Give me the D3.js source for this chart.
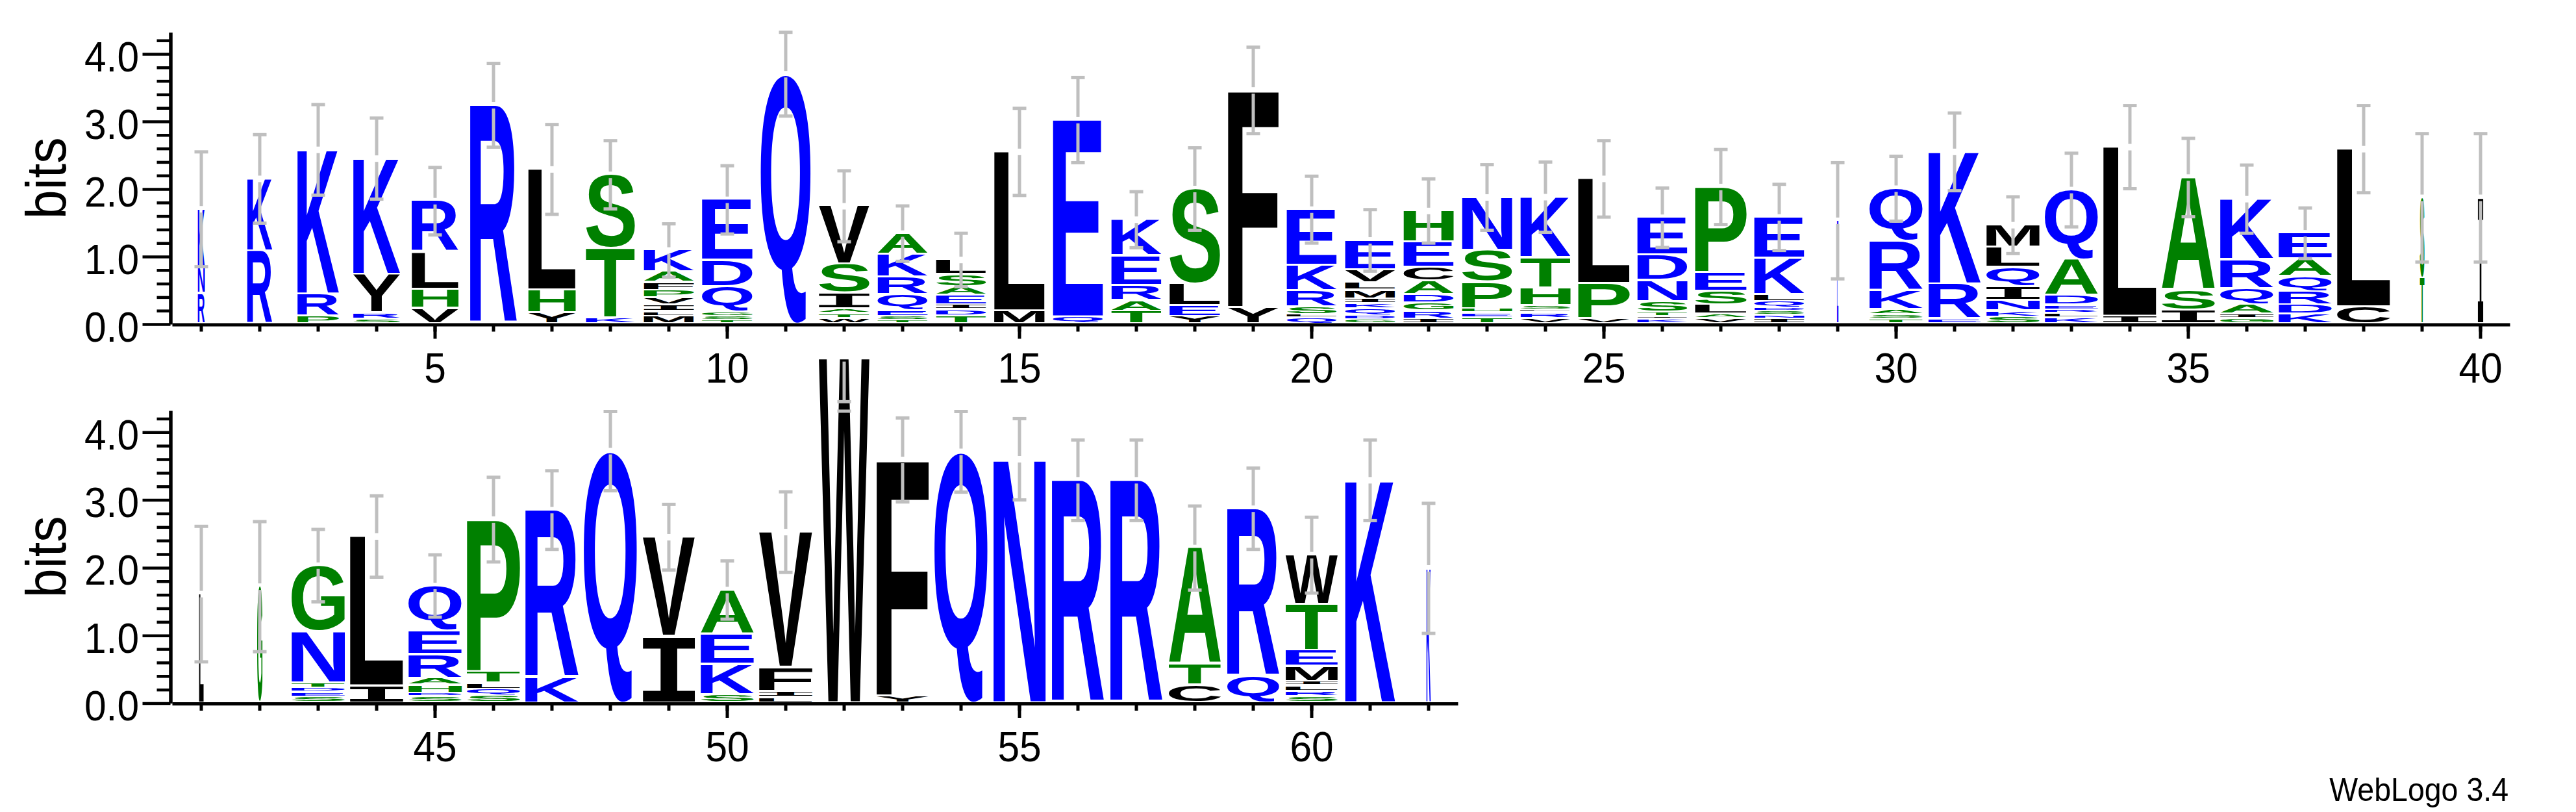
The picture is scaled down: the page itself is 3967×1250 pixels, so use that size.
<!DOCTYPE html>
<html><head><meta charset="utf-8">
<script src="https://cdn.jsdelivr.net/npm/d3@7"></script>
<style>html,body{margin:0;padding:0;background:#fff}svg{display:block}</style>
</head><body>
<svg id="chart" width="3967" height="1250"></svg>
<script>
// ---------------- DATA ----------------
const positions = d3.range(1, 63);
// letters of each stack, bottom -> top
const stackLetters = [
 "RNK","RK","PRK","SRYK","VHLR","R","YHL","KTS","MLIVPFAK","TSGQDE",
 "Q","WTAISV","TSEQRKA","TDIEASL","ML","QE","TAREK","YELS","YF","QLSRKE",
 "GDQKIMLVE","IRGDACEH","TEHPSN","VRLSHTK","VPL","KITSNDE","VALSEP","INSDQLKE","E","TSAKRQ",
 "ERK","SKNIQLM","KLREDAQ","IL","ISA","GIAQRK","KDRQAE","CL","TS","I",
 "L","G","SEDTNG","IL","SDHAREQ","SQLTP","KR","Q","IV","SKEA",
 "LIFV","W","YF","Q","N","R","R","CTA","QR","SRLIMETW",
 "K","K"
];
// letter heights in bits, bottom -> top
const stackBits = [
 [0.45,0.38,0.87],[1.08,1.07],[0.11,0.33,2.14],[0.07,0.09,0.57,1.72],[0.23,0.28,0.55,0.76],
 [3.24],[0.16,0.34,1.79],[0.09,1.03,1.09],[0.11,0.07,0.10,0.10,0.11,0.12,0.16,0.32],[0.05,0.06,0.06,0.38,0.39,0.90],
 [3.70],[0.08,0.07,0.07,0.235,0.43,0.86],[0.05,0.06,0.09,0.235,0.26,0.335,0.31],[0.12,0.09,0.07,0.14,0.13,0.18,0.22],[0.19,2.36],
 [0.10,2.92],[0.186,0.156,0.228,0.44,0.536],[0.11,0.16,0.32,1.41],[0.24,3.22],[0.084,0.046,0.12,0.24,0.38,0.825],
 [0.06,0.06,0.10,0.08,0.07,0.13,0.11,0.19,0.44],[0.07,0.12,0.12,0.12,0.20,0.21,0.375,0.46],[0.09,0.07,0.065,0.39,0.47,0.79],[0.08,0.08,0.04,0.07,0.26,0.45,0.90],[0.08,0.52,1.55],
 [0.07,0.04,0.06,0.16,0.315,0.375,0.555],[0.08,0.06,0.14,0.20,0.28,1.27],[0.07,0.05,0.06,0.05,0.10,0.10,0.54,0.61],[1.53],[0.07,0.065,0.08,0.27,0.74,0.78],
 [0.07,0.52,1.96],[0.10,0.095,0.15,0.20,0.29,0.30,0.33],[0.09,0.065,0.05,0.07,0.14,0.535,1.035],[0.11,2.51],[0.20,0.30,1.67],
 [0.08,0.06,0.14,0.24,0.43,0.90],[0.14,0.14,0.20,0.22,0.26,0.385],[0.25,2.34],[0.68,1.19],[1.87],
 [1.61],[1.72],[0.085,0.07,0.06,0.08,0.755,0.98],[0.25,2.21],[0.09,0.05,0.12,0.10,0.35,0.35,0.67],
 [0.10,0.10,0.09,0.17,2.25],[0.37,2.48],[3.72],[0.98,1.47],[0.12,0.45,0.45,0.65],
 [0.08,0.09,0.355,2.00],[5.09],[0.10,3.49],[3.71],[3.60],
 [3.29],[3.29],[0.26,0.31,1.72],[0.39,2.48],[0.09,0.08,0.08,0.065,0.23,0.23,0.68,0.73],
 [3.29],[1.99]
];
// fraction of the full stack width (column weight)
const stackWeights = [
 0.13,0.47,0.78,0.88,0.88,0.88,0.89,0.92,0.94,0.95,
 0.94,0.95,0.94,0.94,0.95,0.94,0.94,0.95,0.95,0.94,
 0.94,0.94,0.94,0.94,0.97,0.94,0.97,0.94,0.025,1.0,
 0.98,1.0,1.0,1.0,1.0,1.0,1.0,1.0,0.085,0.10,
 0.085,0.10,1.0,1.0,1.0,1.0,1.0,1.0,0.98,1.0,
 1.0,0.95,0.98,1.0,0.98,0.98,0.98,0.98,0.98,0.98,
 0.94,0.08
];
// half length of each error bar, bits
const errorHalf = [
 0.85,0.655,0.67,0.60,0.50,0.62,0.665,0.505,0.395,0.505,
 0.62,0.525,0.41,0.395,0.645,0.63,0.415,0.61,0.64,0.495,
 0.455,0.475,0.485,0.52,0.565,0.44,0.555,0.49,0.86,0.48,
 0.575,0.42,0.545,0.615,0.58,0.505,0.375,0.645,0.95,0.95,
 1.00,0.96,0.535,0.60,0.46,0.625,0.58,0.585,0.485,0.43,
 0.595,0.64,0.62,0.595,0.60,0.595,0.595,0.62,0.60,0.56,
 0.595,0.96
];
const extraCaps = [[52, 4.31]];
const yMajorTicks = [0, 1, 2, 3, 4];
const yMinorTicks = [0.2,0.4,0.6,0.8,1.2,1.4,1.6,1.8,2.2,2.4,2.6,2.8,3.2,3.4,3.6,3.8,4.2];
const xLabelStep = 5;
const letterColor = {};
"KRQEDN".split("").forEach(c => letterColor[c] = "#0000ff");
"STHAPG".split("").forEach(c => letterColor[c] = "#008000");
"LVIMFYWC".split("").forEach(c => letterColor[c] = "#000000");

// ---------------- LAYOUT ----------------
const rows = [
  {first: 1, last: 40, base: 499, ppb: 104, clipTop: 0},
  {first: 41, last: 62, base: 1082.5, ppb: 104.3, clipTop: 551}
];
const left = 265, band = 90, fullW = 82, yMax = 4.32;
const svg = d3.select("#chart");
const ctx = document.createElement("canvas").getContext("2d");
const inkCache = {};
function fam(ch) { return ch === "I" ? "'Liberation Mono'" : "'Liberation Sans'"; }
function ink(ch) {
  if (!inkCache[ch]) {
    ctx.font = "bold 200px " + fam(ch);
    const m = ctx.measureText(ch);
    inkCache[ch] = {l: m.actualBoundingBoxLeft, r: m.actualBoundingBoxRight,
                    a: m.actualBoundingBoxAscent, d: m.actualBoundingBoxDescent};
  }
  return inkCache[ch];
}
function drawLetter(g, ch, x0, y0, w, h) {
  const b = ink(ch);
  const sx = w / (b.l + b.r), sy = h / (b.a + b.d);
  g.append("text")
    .attr("transform", `translate(${x0 + b.l * sx},${y0 + b.a * sy}) scale(${sx},${sy})`)
    .attr("font-family", fam(ch)).attr("font-weight", "bold").attr("font-size", 200)
    .attr("fill", letterColor[ch]).text(ch);
}
const grey = "#bfbfbf";
const tickFont = "'Liberation Sans', Arial, sans-serif";

rows.forEach((row, ri) => {
  const pos = positions.filter(p => p >= row.first && p <= row.last);
  const x = d3.scaleBand().domain(pos).range([left, left + pos.length * band]);
  const y = d3.scaleLinear().domain([0, yMax]).range([row.base, row.base - yMax * row.ppb]);

  const clipId = "clip" + ri;
  svg.append("clipPath").attr("id", clipId).append("rect")
    .attr("x", 0).attr("y", row.clipTop).attr("width", 3967).attr("height", 1250 - row.clipTop);
  const g = svg.append("g").attr("clip-path", `url(#${clipId})`);
  const gl = g.append("g"), ge = g.append("g");

  pos.forEach(p => {
    const i = p - 1;
    const letters = stackLetters[i].split("");
    const hs = stackBits[i];
    const w = stackWeights[i] * fullW;
    const cx = x(p) + x.bandwidth() / 2;
    let cum = 0;
    letters.forEach((ch, k) => {
      const yTop = y(cum + hs[k]);
      let yBot = y(cum) - 3;
      if (yBot - yTop < 1.2) yBot = yTop + 1.2;
      drawLetter(gl, ch, cx - w / 2, yTop, w, yBot - yTop);
      cum += hs[k];
    });
    const top = d3.sum(hs), e = errorHalf[i];
    const yc = y(top), y1 = y(top + e), y2 = y(top - e);
    ge.append("line").attr("x1", cx).attr("x2", cx).attr("y1", y1).attr("y2", yc - 5)
      .attr("stroke", grey).attr("stroke-width", 5);
    ge.append("line").attr("x1", cx).attr("x2", cx).attr("y1", yc + 5).attr("y2", y2)
      .attr("stroke", grey).attr("stroke-width", 5);
    const caps = [y1, y2].concat(extraCaps.filter(c => c[0] === p).map(c => y(c[1])));
    caps.forEach(cy => ge.append("line").attr("x1", cx - 10.5).attr("x2", cx + 10.5)
      .attr("y1", cy).attr("y2", cy).attr("stroke", grey).attr("stroke-width", 5));
  });

  // y axis
  const yMinor = svg.append("g").attr("transform", `translate(262.5,0)`)
    .call(d3.axisLeft(y).tickValues(yMinorTicks).tickSize(21).tickSizeOuter(0).tickFormat(""));
  yMinor.select(".domain").remove();
  yMinor.selectAll("line").attr("stroke", "#000").attr("stroke-width", 4.5);
  const yAx = svg.append("g").attr("transform", `translate(262.5,0)`)
    .call(d3.axisLeft(y).tickValues(yMajorTicks).tickSize(43).tickSizeOuter(0).tickFormat(d3.format(".1f")));
  yAx.select(".domain").attr("stroke", "#000").attr("stroke-width", 5.5);
  yAx.selectAll("line").attr("stroke", "#000").attr("stroke-width", 4.5);
  yAx.selectAll("text").attr("x", -48.5 / 0.93).attr("y", 26).attr("dy", 0)
    .attr("transform", "scale(0.93,1)")
    .attr("font-family", tickFont).attr("font-size", 65).attr("fill", "#000");

  // x axis
  const xAll = svg.append("g").attr("transform", `translate(0,${row.base + 0.5})`)
    .call(d3.axisBottom(x).tickSize(11).tickSizeOuter(0).tickFormat(""));
  xAll.select(".domain").attr("stroke", "#000").attr("stroke-width", 5);
  xAll.selectAll("line").attr("stroke", "#000").attr("stroke-width", 5);
  const xMaj = svg.append("g").attr("transform", `translate(0,${row.base + 0.5})`)
    .call(d3.axisBottom(x).tickValues(pos.filter(p => p % xLabelStep === 0)).tickSize(22).tickSizeOuter(0));
  xMaj.select(".domain").remove();
  xMaj.selectAll("line").attr("stroke", "#000").attr("stroke-width", 5);
  xMaj.selectAll("text").attr("y", 89.5).attr("dy", 0).attr("transform", "scale(0.93,1)")
    .attr("x", function() { return 0; })
    .attr("font-family", tickFont).attr("font-size", 65).attr("fill", "#000");
  // fix text x after scale: put scaling on text only around its own origin
  xMaj.selectAll(".tick text").attr("transform", null)
    .attr("textLength", null);
  xMaj.selectAll(".tick text").each(function() {
    d3.select(this).attr("transform", "scale(0.93,1)");
  });

  // axis title
  svg.append("text")
    .attr("transform", `translate(101,${y(yMax / 2)}) rotate(-90) scale(0.93,1)`)
    .attr("text-anchor", "middle").attr("font-family", tickFont).attr("font-size", 87)
    .attr("fill", "#000").text("bits");
});

svg.append("text").attr("transform", "translate(3863,1233) scale(0.93,1)")
  .attr("text-anchor", "end").attr("font-family", tickFont).attr("font-size", 50)
  .attr("fill", "#000").text("WebLogo 3.4");
</script>
</body></html>
